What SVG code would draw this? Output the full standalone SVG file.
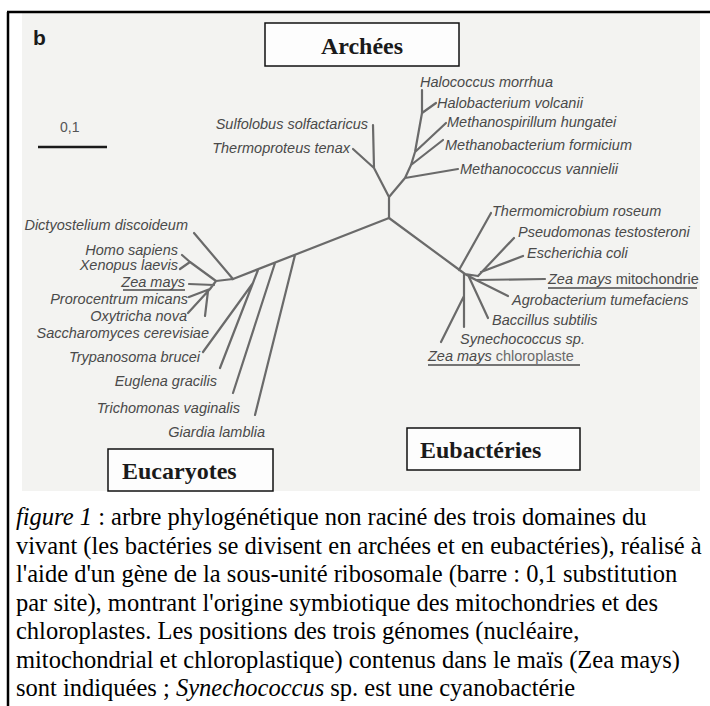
<svg xmlns="http://www.w3.org/2000/svg" width="710" height="706" viewBox="0 0 710 706">
<style>
.br{stroke:#6a6a6a;stroke-width:2.2;fill:none;stroke-linecap:round;stroke-linejoin:round}
.lb{font-family:"Liberation Sans",Arial,sans-serif;font-size:14.5px;font-style:italic;fill:#4a4a4a}
.up{font-style:normal}
.ul{stroke:#4a4a4a;stroke-width:1.3}
.box{fill:#fdfdfd;stroke:#111;stroke-width:1.5}
.dom{font-family:"Liberation Serif","Times New Roman",serif;font-size:24px;font-weight:bold;fill:#1a1a1a}
.cap{font-family:"Liberation Serif","Times New Roman",serif;font-size:24.5px;fill:#000}
</style>
<rect x="0" y="0" width="710" height="706" fill="#ffffff"/>
<rect x="22" y="13" width="678" height="478" fill="#f3f3f1"/>
<path d="M7,12 H710 M8,12 V706" stroke="#000" stroke-width="2.5" fill="none"/>
<text x="33" y="45" font-family="Liberation Sans,Arial,sans-serif" font-size="21" font-weight="bold" fill="#1a1a1a">b</text>
<g id="scale">
<text x="60" y="132" font-family="Liberation Sans,Arial,sans-serif" font-size="14" fill="#555">0,1</text>
<line x1="38" y1="147" x2="107" y2="147" stroke="#1a1a1a" stroke-width="2.5"/>
</g>
<g id="connectors">
<path class="br" d="M389,218 V197 L374,168 L373,125 M374,168 L353,149"/>
<path class="br" d="M389,197 L405,178 L411,165 L415,152 L422,113 V90 M405,178 L458,169 M411,165 L443,140 M415,152 L446,123 M422,113 L436,103"/>
<path class="br" d="M389,218 L233,279 M295,255 L255,415 M275,263 L233,393 M258,270 L220,368 M253,283 L203,352"/>
<path class="br" d="M233,279 L194,233 M233,279 L216,281 L190,262 L182,255 M190,262 L180,269 M216,281 L210,289 M214,285 L189,284 M210,289 L189,297 M210,289 L188,313 M208,291 L205,316"/>
<path class="br" d="M389,218 L465,274 M459,270 L491,213 M465,274 L478,276 M478,276 L514,238 M481,272 L523,256 M476,280 L545,279 M472,278 L508,296 M469,277 L488,318 M464,274 V327 M464,296 L441,342 M465,274 L476,280"/>
</g>
<g id="archees">
<rect class="box" x="265" y="23" width="194" height="43"/>
<text class="dom" x="362" y="54" text-anchor="middle">Archées</text>
</g>
<g id="eucaryotes">
<rect class="box" x="108" y="449" width="165" height="42"/>
<text class="dom" x="122" y="479">Eucaryotes</text>
</g>
<g id="eubacteries">
<rect class="box" x="407" y="428" width="173" height="42"/>
<text class="dom" x="420" y="458">Eubactéries</text>
</g>
<g id="archaea-labels">
<text class="lb" x="420" y="87">Halococcus morrhua</text>
<text class="lb" x="437" y="108">Halobacterium volcanii</text>
<text class="lb" x="447" y="127">Methanospirillum hungatei</text>
<text class="lb" x="445" y="150">Methanobacterium formicium</text>
<text class="lb" x="460" y="174">Methanococcus vannielii</text>
<text class="lb" x="368" y="129" text-anchor="end">Sulfolobus solfactaricus</text>
<text class="lb" x="350" y="153" text-anchor="end">Thermoproteus tenax</text>
</g>
<g id="eukaryote-labels">
<text class="lb" x="188" y="230" text-anchor="end">Dictyostelium discoideum</text>
<text class="lb" x="178" y="255" text-anchor="end">Homo sapiens</text>
<text class="lb" x="178" y="270" text-anchor="end">Xenopus laevis</text>
<text class="lb" x="185" y="287" text-anchor="end">Zea mays</text>
<line class="ul" x1="123" y1="290" x2="185" y2="290"/>
<text class="lb" x="188" y="304" text-anchor="end">Prorocentrum micans</text>
<text class="lb" x="187" y="321" text-anchor="end">Oxytricha nova</text>
<text class="lb" x="209" y="338" text-anchor="end">Saccharomyces cerevisiae</text>
<text class="lb" x="200" y="362" text-anchor="end">Trypanosoma brucei</text>
<text class="lb" x="217" y="386" text-anchor="end">Euglena gracilis</text>
<text class="lb" x="240" y="413" text-anchor="end">Trichomonas vaginalis</text>
<text class="lb" x="265" y="437" text-anchor="end">Giardia lamblia</text>
</g>
<g id="eubacteria-labels">
<text class="lb" x="492" y="216">Thermomicrobium roseum</text>
<text class="lb" x="518" y="237">Pseudomonas testosteroni</text>
<text class="lb" x="527" y="258">Escherichia coli</text>
<text class="lb" x="548" y="284">Zea mays <tspan class="up">mitochondrie</tspan></text>
<line class="ul" x1="548" y1="288" x2="697" y2="288"/>
<text class="lb" x="512" y="305">Agrobacterium tumefaciens</text>
<text class="lb" x="492" y="325">Baccillus subtilis</text>
<text class="lb" x="460" y="344">Synechococcus sp.</text>
<text class="lb" x="428" y="361">Zea mays <tspan class="up" fill="#6a6a6a">chloroplaste</tspan></text>
<line class="ul" x1="428" y1="365" x2="580" y2="365"/>
</g>
<g id="caption">
<text class="cap" x="16" y="525"><tspan font-style="italic">figure 1</tspan> : arbre phylogénétique non raciné des trois domaines du</text>
<text class="cap" x="16" y="554">vivant (les bactéries se divisent en archées et en eubactéries), réalisé à</text>
<text class="cap" x="16" y="582">l'aide d'un gène de la sous-unité ribosomale (barre : 0,1 substitution</text>
<text class="cap" x="16" y="611">par site), montrant l'origine symbiotique des mitochondries et des</text>
<text class="cap" x="16" y="639">chloroplastes. Les positions des trois génomes (nucléaire,</text>
<text class="cap" x="16" y="668">mitochondrial et chloroplastique) contenus dans le maïs (Zea mays)</text>
<text class="cap" x="16" y="696">sont indiquées ; <tspan font-style="italic">Synechococcus</tspan> sp. est une cyanobactérie</text>
</g>
</svg>
